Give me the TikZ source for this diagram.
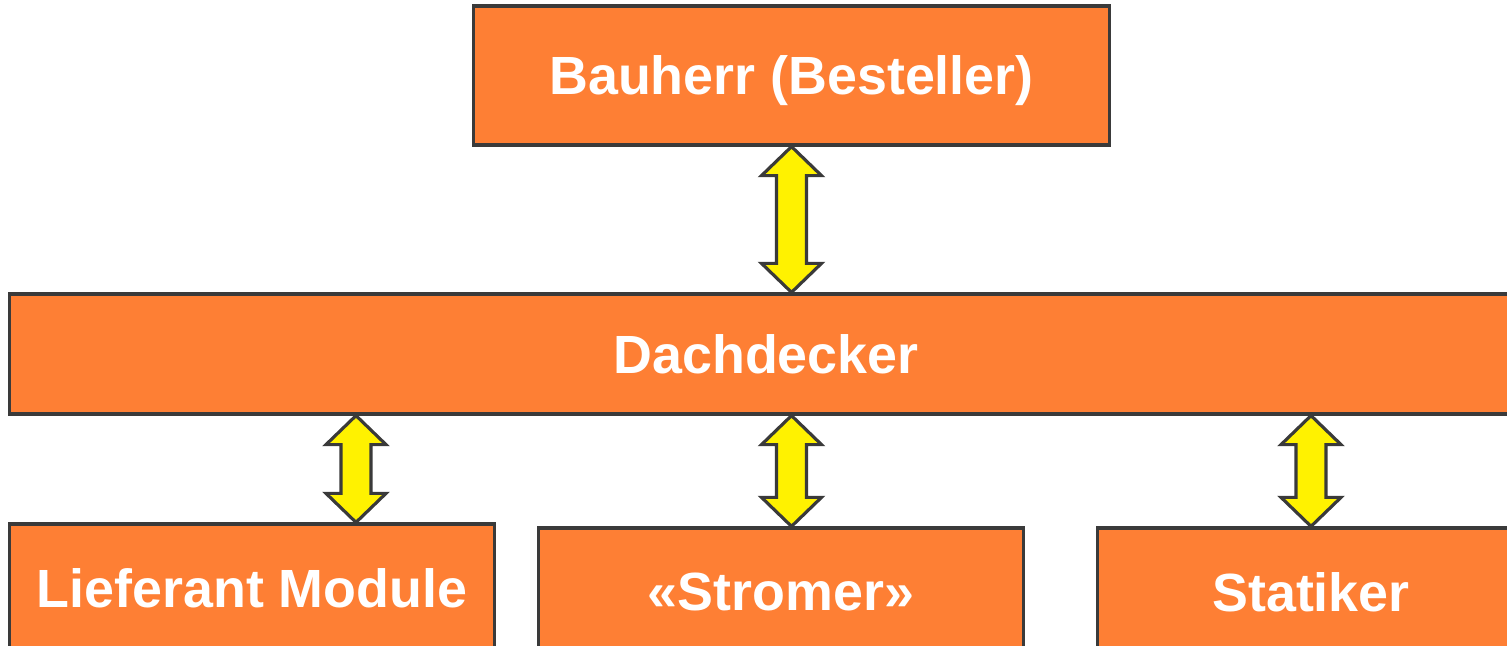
\documentclass[tikz,border=0pt]{standalone}
\usepackage{fontspec}
\setmainfont{Liberation Sans}
\usepackage{tikz}
\usetikzlibrary{positioning, calc}

\definecolor{boxorange}{HTML}{FE7F34}
\definecolor{boxline}{HTML}{3A3A3A}

\newcommand{\linkarrow}[2]{%
  \path[link arrow] (#1) -- ++(-30,-29) -- ++(15,0) -- ($(#2)+(-15,29)$)
    -- ++(-15,0) -- (#2) -- ++(30,29) -- ++(-15,0) -- ($(#1)+(15,-29)$)
    -- ++(15,0) -- cycle;}

\begin{document}
\begin{tikzpicture}[x=0.01cm, y=0.01cm,
  box node/.style={rectangle,draw=boxline,fill=boxorange,line width=0.9pt,
    inner sep=0pt,text depth=0pt,text=white,font=\fontsize{15.3}{18}\selectfont\bfseries},
  link arrow/.style={draw=boxline,fill=yellow,line width=0.9pt}]

\useasboundingbox (0,0) rectangle (1507,646);
\clip (0,0) rectangle (1507,646);

\node[box node, minimum width=6.35cm, minimum height=1.39cm] (B) at (791.5,570.5) {Bauherr (Besteller)};
\node[box node, minimum width=15.12cm, minimum height=1.20cm] (D) at (766,292) {Dachdecker};
\node[box node, minimum width=4.84cm, minimum height=1.28cm] (L) at (252,58) {Lieferant Module};
\node[box node, minimum width=4.84cm, minimum height=1.28cm] (S) at (781,54) {«Stromer»};
\node[box node, minimum width=4.26cm, minimum height=1.28cm] (T) at (1311,54) {Statiker};

\coordinate (a2) at (356,0);

\linkarrow{B.south}{D.north -| B.south}
\linkarrow{D.south -| a2}{L.north -| a2}
\linkarrow{D.south -| B.south}{S.north -| B.south}
\linkarrow{D.south -| T.north}{T.north}
\end{tikzpicture}
\end{document}
